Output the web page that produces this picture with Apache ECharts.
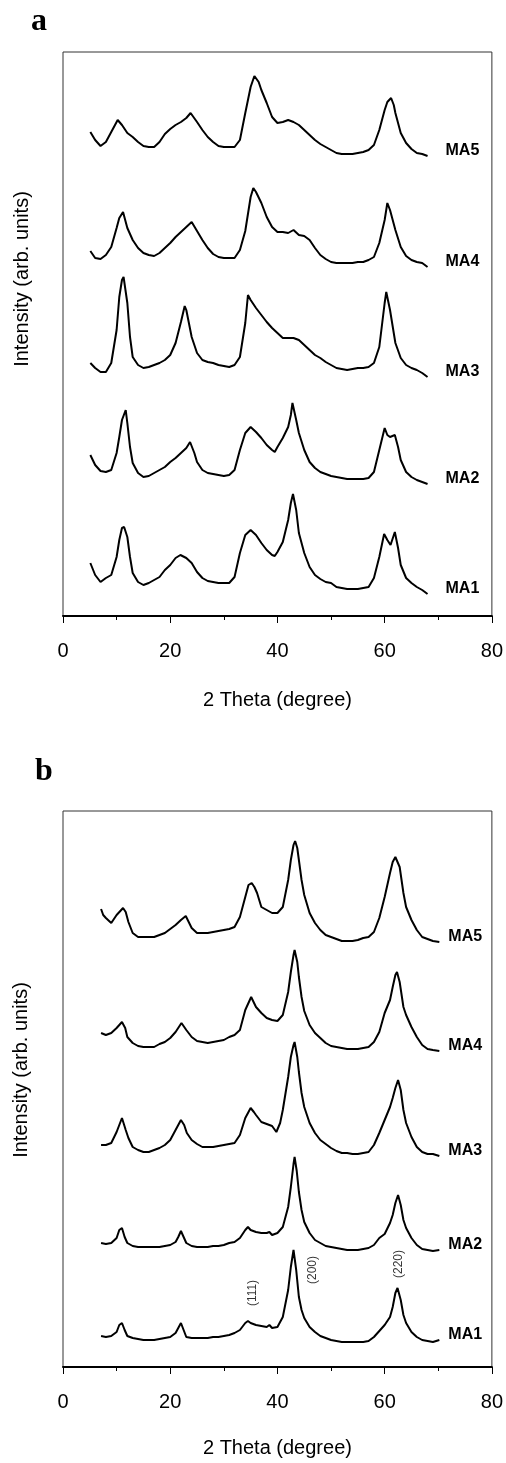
<!DOCTYPE html>
<html>
<head>
<meta charset="utf-8">
<script src="https://cdn.jsdelivr.net/npm/echarts@6/dist/echarts.min.js"></script>
<style>
html,body{margin:0;padding:0;background:#fff;}
#chart{width:506px;height:1463px;}
</style>
</head>
<body>
<div id="chart"></div>
<script>
// ---------- data (2 theta in degrees, intensity in arbitrary units, stacked offsets included) ----------
const seriesNames = ['MA5', 'MA4', 'MA3', 'MA2', 'MA1'];
const xTicks = [0, 20, 40, 60, 80];

// Panel a
const a_MA5 = [[5.1,484],[6,476],[7,470],[8,474],[9,484],[10.2,496],[11,491],[12,483],[13,479],[14,474],[15,470],[16,469],[17,469],[18,474],[19,482],[20,487],[21,491],[22,494],[23,498],[23.8,503],[25,494],[26,486],[27,479],[28,474],[29,470],[30,469],[31,469],[32,469],[33,476],[34,503],[35,529],[35.7,540],[36.5,534],[37,526],[38,513],[39,499],[40,493],[41,494],[42,496],[43,494],[44,491],[45,486],[46,481],[47,476],[48,472],[49,469],[50,466],[51,463],[52,462],[53,462],[54,462],[55,463],[56,464],[57,466],[58,471],[59,486],[60,506],[60.5,514],[61.2,518],[61.7,511],[62,503],[63,483],[64,473],[65,467],[66,463],[67,462],[68,460]];
const a_MA4 = [[5.1,365],[6,358],[7,357],[8,361],[9,369],[10,388],[10.5,398],[11.2,404],[12,388],[13,376],[14,368],[15,363],[16,361],[17,360],[18,363],[19,368],[20,373],[21,379],[22,384],[23,389],[24,394],[25,385],[26,376],[27,368],[28,362],[29,359],[30,358],[31,358],[32,358],[33,366],[34,385],[35,419],[35.5,428],[36,424],[37,413],[38,399],[39,389],[40,384],[41,384],[42,383],[43,386],[44,381],[45,380],[46,376],[47,368],[48,361],[49,357],[50,354],[51,353],[52,353],[53,353],[54,353],[55,354],[56,354],[57,356],[58,359],[59,373],[60,396],[60.5,413],[61,406],[62,386],[63,369],[64,360],[65,356],[66,354],[67,353],[68,349]];
const a_MA3 = [[5.1,253],[6,248],[7,244],[8,244],[9,253],[10,286],[10.5,319],[11,336],[11.3,339],[12,313],[12.5,279],[13,259],[14,251],[15,248],[16,249],[17,251],[18,253],[19,256],[20,261],[21,273],[22,294],[22.7,310],[23,306],[24,279],[25,263],[26,256],[27,254],[28,253],[29,251],[30,250],[31,249],[32,251],[33,259],[34,293],[34.5,321],[35,316],[36,308],[37,301],[38,294],[39,288],[40,283],[41,278],[42,278],[43,278],[44,276],[45,271],[46,266],[47,261],[48,258],[49,254],[50,251],[51,248],[52,247],[53,246],[54,247],[55,248],[56,248],[57,249],[58,253],[59,269],[60,313],[60.3,324],[61,306],[62,273],[63,258],[64,251],[65,248],[66,246],[67,243],[68,239]];
const a_MA2 = [[5.1,161],[6,151],[7,145],[8,144],[9,146],[10,163],[10.5,179],[11,196],[11.7,206],[12,193],[12.5,169],[13,153],[14,143],[15,139],[16,140],[17,143],[18,146],[19,149],[20,154],[21,158],[22,163],[23,168],[23.7,174],[24.5,163],[25,154],[26,146],[27,143],[28,142],[29,141],[30,140],[31,141],[32,146],[33,166],[34,183],[35,189],[36,184],[37,178],[38,171],[39,166],[39.5,164],[40,169],[41,178],[42,189],[42.5,201],[42.8,213],[43.5,196],[44,183],[45,166],[46,154],[47,148],[48,144],[49,142],[50,140],[51,139],[52,138],[53,137],[54,137],[55,137],[56,137],[57,138],[58,144],[59,166],[60,188],[60.5,181],[61,179],[61.9,181],[62.5,169],[63,156],[64,144],[65,139],[66,136],[67,134],[68,132]];
const a_MA1 = [[5.1,53],[6,41],[7,34],[8,38],[9,41],[10,59],[10.5,76],[11,88],[11.4,89],[12,79],[12.5,59],[13,43],[14,34],[15,31],[16,33],[17,36],[18,39],[19,46],[20,51],[21,58],[21.9,61],[23,58],[24,53],[25,44],[26,38],[27,35],[28,34],[29,33],[30,33],[31,33],[32,39],[33,63],[34,81],[35,86],[36,81],[37,73],[38,66],[39,61],[39.5,60],[40,64],[41,74],[42,96],[42.5,113],[42.9,122],[43.5,106],[44,83],[45,63],[46,49],[47,41],[48,37],[49,34],[50,33],[51,29],[52,28],[53,27],[54,27],[55,27],[56,28],[57,29],[58,38],[59,59],[59.9,82],[60.5,76],[61.1,71],[61.9,84],[62.5,68],[63,51],[64,38],[65,33],[66,29],[67,26],[68,22]];

// Panel b
const b_MA5 = [[7.1,458],[7.5,452],[8,449],[9,444],[10,452],[11.2,459],[11.7,455],[12.2,445],[13,434],[14,430],[15,430],[16,430],[17,430],[18,432],[19,434],[20,438],[21,442],[22,447],[22.9,451],[24,439],[25,434],[26,434],[27,434],[28,435],[29,436],[30,437],[31,438],[32,440],[33,450],[34,470],[34.6,482],[35.2,484],[35.7,480],[36.2,474],[37,460],[38,457],[39,454],[40,454],[41,460],[42,487],[42.5,507],[43,522],[43.3,526],[43.7,519],[44,507],[44.5,487],[45,472],[46,454],[47,444],[48,437],[49,432],[50,430],[51,428],[52,426],[53,426],[54,426],[55,427],[56,429],[57,430],[58,435],[59,449],[60,470],[61,494],[61.5,505],[62,510],[62.3,512],[62.8,500],[63.5,474],[64,460],[65,447],[66,437],[67,430],[68,428],[69,426],[70.2,425]];
const b_MA4 = [[7.1,334],[8,332],[9,334],[10,339],[11,345],[11.6,339],[12,330],[13,324],[14,321],[15,320],[16,320],[17,320],[18,323],[19,325],[20,329],[21,335],[22.1,344],[23,337],[24,330],[25,326],[26,325],[27,324],[28,325],[29,326],[30,327],[31,330],[32,332],[33,337],[34,357],[35.1,370],[36,360],[37,354],[38,349],[39,347],[40,346],[41,352],[42,375],[42.5,395],[43,412],[43.2,417],[43.7,405],[44,390],[44.5,370],[45,356],[46,342],[47,334],[48,329],[49,324],[50,321],[51,320],[52,319],[53,318],[54,318],[55,318],[56,319],[57,320],[58,325],[59,335],[60,354],[61,367],[61.5,380],[62,392],[62.3,395],[62.8,385],[63.5,360],[64,352],[65,340],[66,330],[67,322],[68,318],[69,317],[70.2,316]];
const b_MA3 = [[7.1,222],[8,222],[9,224],[10,235],[11,249],[11.7,237],[12.2,229],[13,220],[14,217],[15,215],[16,215],[17,217],[18,219],[19,222],[20,227],[21,237],[22,247],[22.6,242],[23.1,234],[24,227],[25,223],[26,220],[27,220],[28,220],[29,221],[30,222],[31,223],[32,224],[33,232],[34,249],[35,259],[35.6,255],[36,252],[37,245],[38,243],[39,241],[39.8,235],[40.5,244],[41,257],[42,290],[42.5,310],[43,322],[43.2,325],[43.7,310],[44,295],[44.5,274],[45,260],[46,244],[47,234],[48,227],[49,223],[50,219],[51,216],[52,214],[53,214],[54,213],[55,213],[56,214],[57,215],[58,222],[59,234],[60,247],[61,260],[61.5,269],[62,279],[62.5,287],[63,277],[63.5,257],[64,244],[65,230],[66,220],[67,215],[68,213],[69,213],[70.2,211]];
const b_MA2 = [[7.1,124],[8,123],[9,124],[10,129],[10.5,137],[11,139],[11.5,130],[12,124],[13,121],[14,120],[15,120],[16,120],[17,120],[18,120],[19,121],[20,122],[21,125],[21.5,130],[22,136],[22.5,130],[23,124],[24,121],[25,120],[26,120],[27,120],[28,121],[29,121],[30,122],[31,124],[32,125],[33,129],[34,137],[34.5,140],[35,137],[36,135],[37,134],[38,134],[38.5,135],[39,132],[40,134],[41,140],[42,160],[42.5,180],[43,203],[43.2,210],[43.6,196],[44,175],[44.5,157],[45,145],[46,134],[47,127],[48,124],[49,121],[50,120],[51,119],[52,118],[53,117],[54,117],[55,117],[56,118],[57,119],[58,122],[59,129],[60,133],[61,144],[61.5,152],[62,164],[62.5,172],[63,162],[63.5,147],[64,139],[65,129],[66,122],[67,118],[68,117],[69,116],[70.2,117]];
const b_MA1 = [[7.1,31],[8,30],[9,31],[10,35],[10.5,42],[11,44],[11.5,37],[12,31],[13,29],[14,28],[15,27],[16,27],[17,27],[18,28],[19,29],[20,30],[21,34],[21.5,39],[22,44],[22.5,37],[23,30],[24,29],[25,29],[26,29],[27,29],[28,30],[29,30],[30,31],[31,32],[32,34],[33,37],[34,44],[34.5,46],[35,44],[36,42],[37,41],[38,40],[38.5,42],[39,39],[40,40],[41,50],[42,77],[42.5,100],[43,117],[43.5,97],[44,70],[44.5,57],[45,49],[46,40],[47,35],[48,31],[49,29],[50,27],[51,26],[52,25],[53,25],[54,25],[55,25],[56,25],[57,26],[58,30],[59,36],[60,42],[61,50],[61.5,60],[62,74],[62.4,79],[63,67],[63.5,52],[64,44],[65,35],[66,30],[67,27],[68,26],[69,25],[70.2,27]];

// peak (hkl) annotations in panel b: [2theta, intensity]
const hklLabels = ['(111)', '(200)', '(220)'];
const hklPos = [[35.3, 74], [46.5, 97], [62.6, 103]];

const panelA = [a_MA5, a_MA4, a_MA3, a_MA2, a_MA1];
const panelB = [b_MA5, b_MA4, b_MA3, b_MA2, b_MA1];
const yMaxA = 564, yMaxB = 556;

// ---------- chart ----------
const FONT = "'Liberation Sans', Arial, Helvetica, sans-serif";
const chart = echarts.init(document.getElementById('chart'), null, {renderer: 'canvas'});

function xAxisCfg(gridIndex, nameGap) {
  return {
    gridIndex, type: 'value', min: xTicks[0], max: xTicks[xTicks.length - 1], interval: 20,
    name: '2 Theta (degree)', nameLocation: 'middle', nameGap,
    nameTextStyle: {fontSize: 20, color: '#000', fontFamily: FONT},
    axisLine: {show: true, onZero: false, lineStyle: {color: '#000', width: 2}},
    axisTick: {show: true, inside: false, length: 7, lineStyle: {color: '#000', width: 1}},
    minorTick: {show: true, splitNumber: 2, length: 4, lineStyle: {color: '#000', width: 1}},
    splitLine: {show: false}, minorSplitLine: {show: false},
    axisLabel: {fontSize: 20, color: '#000', fontFamily: FONT, margin: 25}
  };
}
function yAxisCfg(gridIndex, max) {
  return {gridIndex, type: 'value', min: 0, max, show: false, splitLine: {show: false}};
}
function lineSeries(name, data, idx) {
  return {
    type: 'line', name, data, xAxisIndex: idx, yAxisIndex: idx,
    showSymbol: false, symbol: 'none', smooth: false, animation: false,
    lineStyle: {color: '#000', width: 2},
    endLabel: {show: true, formatter: '{a}', distance: 18, offset: [0, -5],
      fontSize: 16, fontWeight: 'bold', color: '#000', fontFamily: FONT}
  };
}

const series = [];
seriesNames.forEach((n, i) => series.push(lineSeries(n, panelA[i], 0)));
seriesNames.forEach((n, i) => {
  const s = lineSeries(n, panelB[i], 1);
  s.endLabel.distance = 9;
  series.push(s);
});
series.push({
  type: 'scatter', xAxisIndex: 1, yAxisIndex: 1, symbolSize: 1, animation: false,
  itemStyle: {color: 'rgba(0,0,0,0)'}, silent: true,
  data: hklPos.map((p, i) => ({value: p, name: hklLabels[i]})),
  label: {show: true, position: 'inside', rotate: 90, formatter: '{b}',
    fontSize: 12, color: '#000', fontFamily: FONT}
});

const option = {
  backgroundColor: '#fff',
  animation: false,
  grid: [
    {left: 63, top: 52, width: 430, height: 564, show: true, borderColor: '#333', borderWidth: 1, backgroundColor: 'transparent'},
    {left: 63, top: 811, width: 429, height: 556, show: true, borderColor: '#333', borderWidth: 1, backgroundColor: 'transparent'}
  ],
  xAxis: [xAxisCfg(0, 74), xAxisCfg(1, 71)],
  yAxis: [yAxisCfg(0, yMaxA), yAxisCfg(1, yMaxB)],
  series,
  graphic: [
    {type: 'text', x: 31, y: 22, style: {text: 'a', font: "bold 32px 'Liberation Serif', 'Times New Roman', serif",
      fill: '#000', textAlign: 'left', textVerticalAlign: 'middle', align: 'left', verticalAlign: 'middle'}},
    {type: 'text', x: 35, y: 772, style: {text: 'b', font: "bold 32px 'Liberation Serif', 'Times New Roman', serif",
      fill: '#000', textAlign: 'left', textVerticalAlign: 'middle', align: 'left', verticalAlign: 'middle'}},
    {type: 'text', x: 22, y: 279, rotation: Math.PI / 2, style: {text: 'Intensity (arb. units)', font: "20px " + FONT,
      fill: '#000', textAlign: 'center', textVerticalAlign: 'middle', align: 'center', verticalAlign: 'middle'}},
    {type: 'text', x: 21, y: 1070, rotation: Math.PI / 2, style: {text: 'Intensity (arb. units)', font: "20px " + FONT,
      fill: '#000', textAlign: 'center', textVerticalAlign: 'middle', align: 'center', verticalAlign: 'middle'}}
  ]
};
chart.setOption(option);
</script>
</body>
</html>
